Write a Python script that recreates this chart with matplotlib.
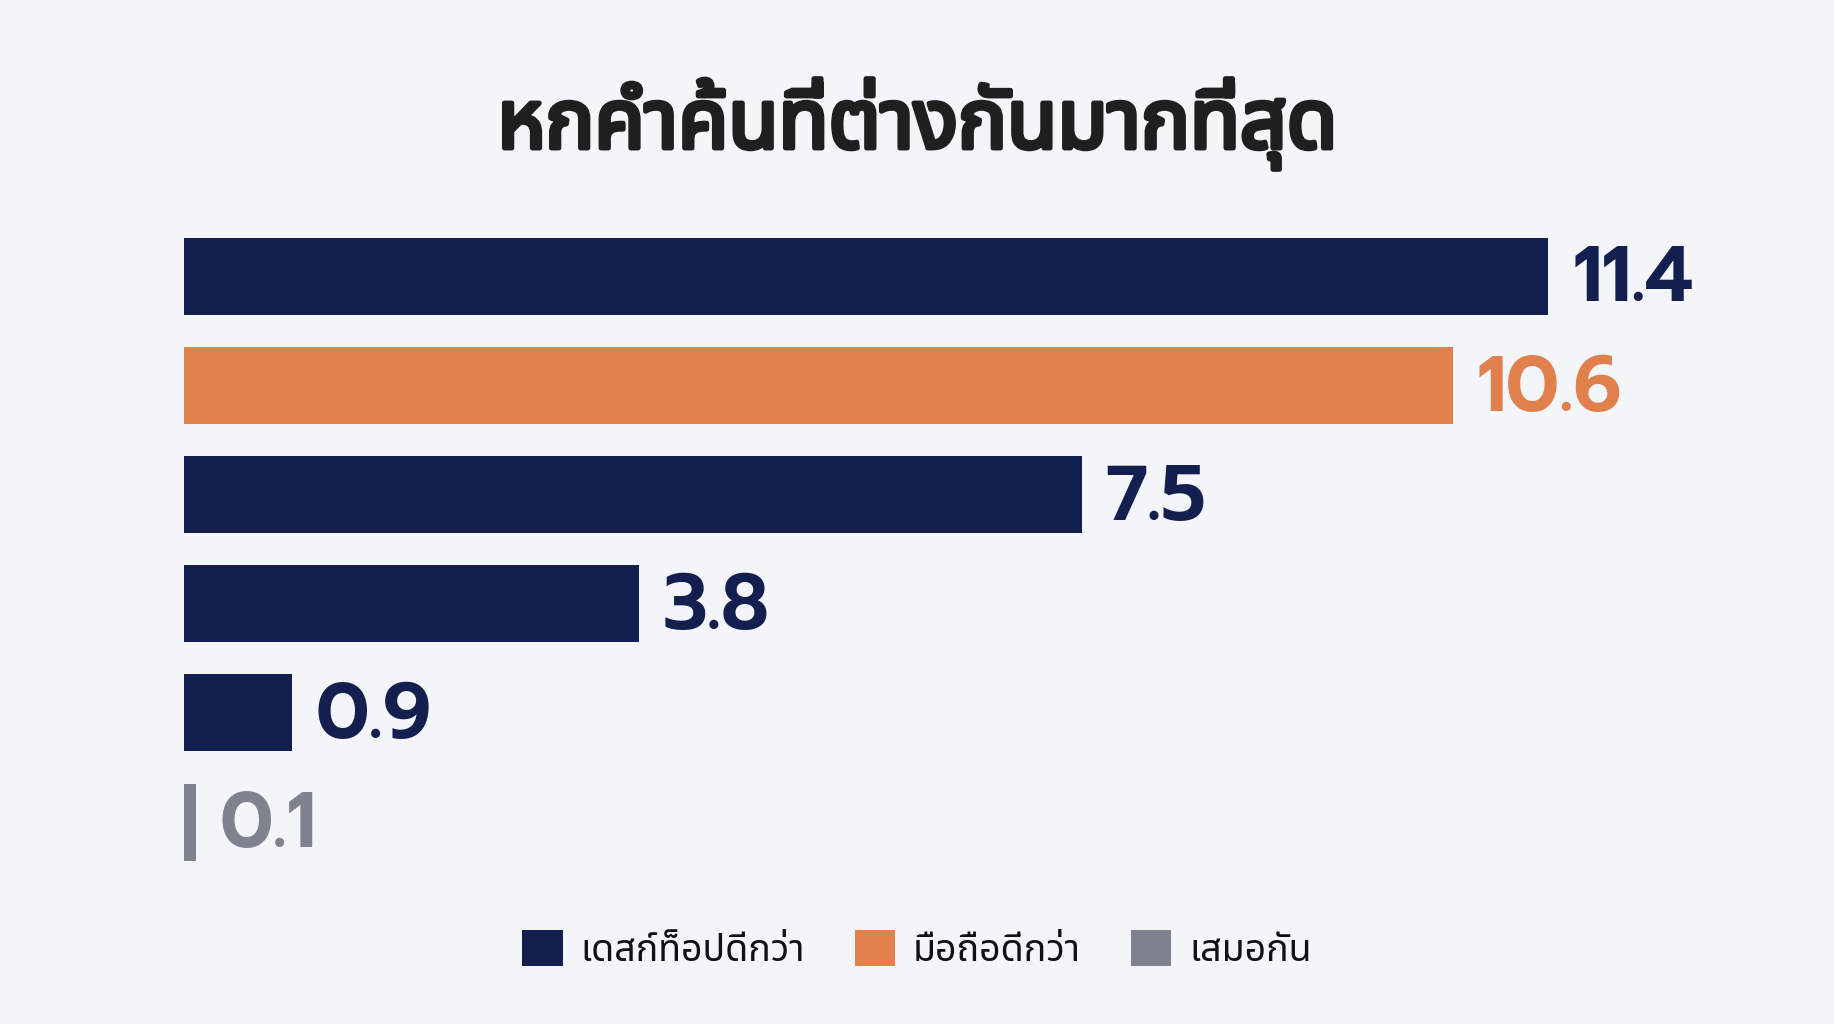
import matplotlib
matplotlib.use("Agg")
import matplotlib.pyplot as plt
import matplotlib.patheffects as pe
from matplotlib.patches import Patch

# data
values = [11.4, 10.6, 7.5, 3.8, 0.9, 0.1]
groups = ["desktop", "mobile", "desktop", "desktop", "desktop", "tie"]
title = "หกคำค้นที่ต่างกันมากที่สุด"
legend_labels = {"desktop": "เดสก์ท็อปดีกว่า", "mobile": "มือถือดีกว่า", "tie": "เสมอกัน"}
legend_order = ["desktop", "mobile", "tie"]

colors = {"desktop": "#131F4E", "mobile": "#E0804D", "tie": "#7E838F"}
BG = "#F3F5F9"
THAI = ["Noto Sans Thai", "DejaVu Sans"]
NUMS = ["Prompt", "DejaVu Sans"]
TITLE_COL = "#1F1F1F"

fig = plt.figure(figsize=(18.34, 10.24), dpi=100, facecolor=BG)
ax = fig.add_axes([0.1003, 0.1439, 0.8484, 0.6396])
ax.set_facecolor(BG)

ypos = list(range(len(values)))
bar_colors = [colors[g] for g in groups]
ax.barh(ypos, values, height=0.705, color=bar_colors)

for y, v, g in zip(ypos, values, groups):
    ax.text(v + 0.2, y + 0.23, "{:.1f}".format(v), color=colors[g], fontsize=56,
            fontweight=600, family=NUMS, va="baseline", ha="left")

ax.set_xlim(0, 13)
ax.set_ylim(len(values) - 0.5, -0.5)
ax.axis("off")

# Noto Sans Thai only ships one weight here, so thicken it with a stroke
fig.text(0.5, 0.8555, title, ha="center", va="baseline", fontsize=59,
         family=THAI, color=TITLE_COL,
         path_effects=[pe.withStroke(linewidth=3.6, foreground=TITLE_COL)])

handles = [Patch(facecolor=colors[k], edgecolor="none", label=legend_labels[k]) for k in legend_order]
leg = fig.legend(handles=handles, loc="center", bbox_to_anchor=(0.5, 0.072), ncol=3,
                 frameon=False, handlelength=1.08, handleheight=1.1,
                 handletextpad=0.47, columnspacing=1.33,
                 prop={"family": THAI, "size": 27})
for t in leg.get_texts():
    t.set_color("#111111")

fig.savefig("out.png", facecolor=BG)
